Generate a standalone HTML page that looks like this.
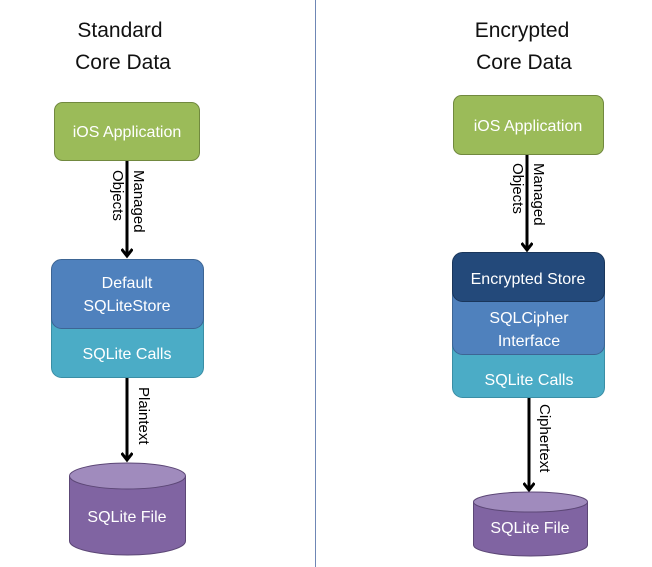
<!DOCTYPE html>
<html><head><style>
html,body{margin:0;padding:0;background:#fff;}
svg{display:block;font-family:"Liberation Sans",sans-serif;}
</style></head><body>
<svg width="652" height="567" viewBox="0 0 652 567" xmlns="http://www.w3.org/2000/svg">
<defs>
<marker id="ah" markerWidth="12" markerHeight="12" refX="8" refY="6" orient="auto" markerUnits="userSpaceOnUse">
<path d="M1,0.5 L8,6 L1,11.5" fill="none" stroke="#000" stroke-width="3"/>
</marker>
</defs>
<line x1="315.5" y1="0" x2="315.5" y2="567" stroke="#6f87b5" stroke-width="1"/>
<g font-size="21" fill="#111" text-anchor="middle">
<text x="120" y="37">Standard</text>
<text x="123" y="69">Core Data</text>
<text x="522" y="37">Encrypted</text>
<text x="524" y="69">Core Data</text>
</g>
<!-- Left -->
<rect x="54.5" y="102.5" width="145" height="58" rx="8" fill="#9bbb59" stroke="#71893f"/>
<text x="127" y="137" font-size="16" fill="#fff" text-anchor="middle">iOS Application</text>
<line x1="127" y1="161" x2="127" y2="256" stroke="#000" stroke-width="3" marker-end="url(#ah)"/>
<text transform="translate(134,170) rotate(90)" font-size="15" fill="#000">Managed</text>
<text transform="translate(113,170) rotate(90)" font-size="15" fill="#000">Objects</text>
<rect x="51.5" y="305.5" width="152" height="72" rx="10" fill="#4bacc6" stroke="#3a8ea5"/>
<rect x="51.5" y="259.5" width="152" height="69" rx="10" fill="#4f81bd" stroke="#3d6594"/>
<text x="127" y="288" font-size="16" fill="#fff" text-anchor="middle">Default</text>
<text x="127" y="311" font-size="16" fill="#fff" text-anchor="middle">SQLiteStore</text>
<text x="127" y="359" font-size="16" fill="#fff" text-anchor="middle">SQLite Calls</text>
<line x1="127" y1="378" x2="127" y2="460" stroke="#000" stroke-width="3" marker-end="url(#ah)"/>
<text transform="translate(139,387) rotate(90)" font-size="15" fill="#000">Plaintext</text>
<path d="M69.5,476 L69.5,541 A58,14 0 0 0 185.5,541 L185.5,476" fill="#8064a2" stroke="#5c4776"/>
<ellipse cx="127.5" cy="476" rx="58" ry="13" fill="#a08bbd" stroke="#5c4776"/>
<text x="127" y="522" font-size="16" fill="#fff" text-anchor="middle">SQLite File</text>
<!-- Right -->
<rect x="453.5" y="95.5" width="150" height="59" rx="8" fill="#9bbb59" stroke="#71893f"/>
<text x="528" y="131" font-size="16" fill="#fff" text-anchor="middle">iOS Application</text>
<line x1="527" y1="155" x2="527" y2="250" stroke="#000" stroke-width="3" marker-end="url(#ah)"/>
<text transform="translate(534,163) rotate(90)" font-size="15" fill="#000">Managed</text>
<text transform="translate(513,163) rotate(90)" font-size="15" fill="#000">Objects</text>
<rect x="452.5" y="330.5" width="152" height="67" rx="10" fill="#4bacc6" stroke="#3a8ea5"/>
<rect x="452.5" y="280.5" width="152" height="74" rx="10" fill="#4f81bd" stroke="#3d6594"/>
<rect x="452.5" y="252.5" width="152" height="49" rx="10" fill="#23497a" stroke="#1a365b"/>
<text x="528" y="284" font-size="16" fill="#fff" text-anchor="middle">Encrypted Store</text>
<text x="529" y="323" font-size="16" fill="#fff" text-anchor="middle">SQLCipher</text>
<text x="529" y="346" font-size="16" fill="#fff" text-anchor="middle">Interface</text>
<text x="529" y="385" font-size="16" fill="#fff" text-anchor="middle">SQLite Calls</text>
<line x1="529" y1="398" x2="529" y2="490" stroke="#000" stroke-width="3" marker-end="url(#ah)"/>
<text transform="translate(540,404) rotate(90)" font-size="15" fill="#000">Ciphertext</text>
<path d="M473.5,502 L473.5,545 A57,11 0 0 0 587.5,545 L587.5,502" fill="#8064a2" stroke="#5c4776"/>
<ellipse cx="530.5" cy="502" rx="57" ry="10" fill="#a08bbd" stroke="#5c4776"/>
<text x="530" y="533" font-size="16" fill="#fff" text-anchor="middle">SQLite File</text>
</svg>
</body></html>
